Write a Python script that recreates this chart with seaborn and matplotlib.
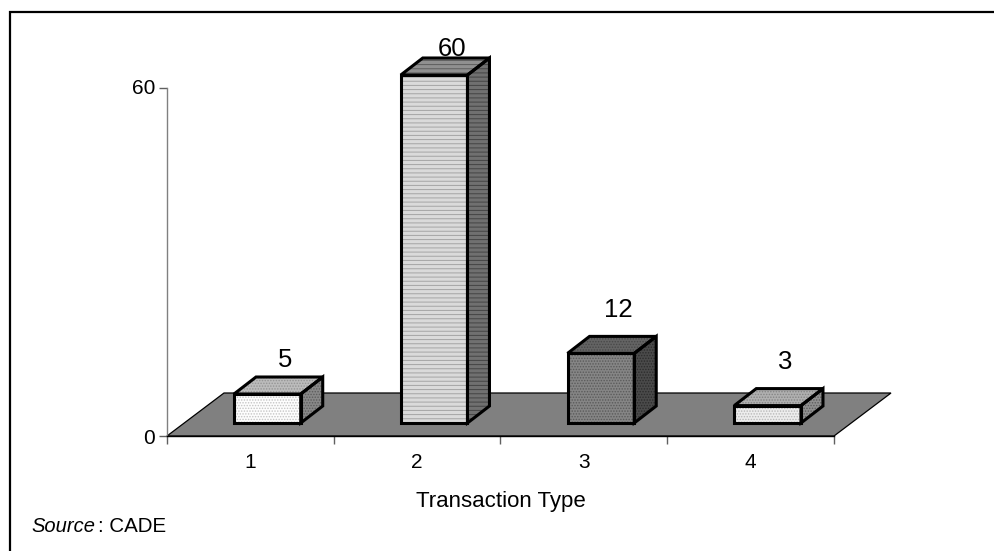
import matplotlib
matplotlib.use("Agg")
import matplotlib.pyplot as plt
import pandas as pd
import seaborn as sns
from matplotlib.patches import Polygon, Rectangle
from matplotlib.transforms import ScaledTranslation

categories = ["1", "2", "3", "4"]
values = [5, 60, 12, 3]
y_ticks = [0, 60]
x_label = "Transaction Type"
source_label = "Source"
source_name = ": CADE"

front_colors = ["#fdfdfd", "#dadada", "#858585", "#ededed"]
front_hatch_colors = ["#c4c4c4", "#a4a4a4", "#5a5a5a", "#b8b8b8"]
top_colors = ["#bcbcbc", "#909090", "#646464", "#b0b0b0"]
top_hatch_colors = ["#949494", "#5e5e5e", "#484848", "#848484"]
side_colors = ["#888888", "#707070", "#4a4a4a", "#909090"]
side_hatch_colors = ["#5c5c5c", "#444444", "#2c2c2c", "#5c5c5c"]
hatches = ["......", "----", "......", "......"]
label_gaps_px = [10, 2, 19, 20]

W, H = 995, 551
sns.set_theme(style="white")
plt.rcParams["font.family"] = ["Liberation Sans", "DejaVu Sans"]
plt.rcParams["hatch.linewidth"] = 0.7

fig = plt.figure(figsize=(W / 100, H / 100), dpi=100)


def box(x0, y_top, x1, y_bottom):
    return [x0 / W, 1 - y_bottom / H, (x1 - x0) / W, (y_bottom - y_top) / H]


# frame around the picture
fig.add_artist(Rectangle((10.5 / W, -0.02), 1.0, 1 - 12 / H + 0.02,
                         transform=fig.transFigure, fill=False,
                         edgecolor="black", linewidth=1.6))

# main axes: axis lines, ticks and the grey floor
ax = fig.add_axes(box(167, 88, 834, 436))
ax.set_xlim(-0.5, 3.5)
ax.set_ylim(0, 60)
ax.patch.set_visible(False)
for s in ("top", "right"):
    ax.spines[s].set_visible(False)
ax.spines["left"].set_color("#808080")
ax.spines["left"].set_linewidth(1.0)
ax.spines["bottom"].set_color("black")
ax.spines["bottom"].set_linewidth(1.0)
ax.set_xticks([-0.5, 0.5, 1.5, 2.5, 3.5])
ax.set_xticklabels([])
ax.set_xticks(range(4), categories, minor=True)
ax.set_yticks(y_ticks)
ax.tick_params(axis="x", which="major", length=6, width=1, color="#606060",
               direction="out", bottom=True)
ax.tick_params(axis="x", which="minor", length=0, labelsize=15, pad=12.5,
               labelcolor="black", bottom=True)
ax.tick_params(axis="y", length=6, width=1, color="#606060", labelsize=15,
               pad=2.5, labelcolor="black", left=True)
ax.set_xlabel(x_label, fontsize=16, color="black", labelpad=13.5)
top_label = ax.get_yticklabels()[1]
top_label.set_transform(top_label.get_transform()
                        + ScaledTranslation(0, 2 / 100, fig.dpi_scale_trans))

deep_x = 57 / 166.75
deep_y = 43 / 5.8
ax.add_patch(Polygon([(-0.5, 0), (3.5, 0), (3.5 + deep_x, deep_y), (-0.5 + deep_x, deep_y)],
                     closed=True, facecolor="#808080", edgecolor="black",
                     linewidth=0.9, clip_on=False, zorder=1))

# bar axes: same scales, moved onto the floor
bx = fig.add_axes(box(184, 75, 851, 423))
df = pd.DataFrame({"cat": categories, "val": values})
sns.barplot(data=df, x="cat", y="val", ax=bx, width=0.4, color="white",
            saturation=1, legend=False)
bx.set_xlim(-0.5, 3.5)
bx.set_ylim(0, 60)
bx.axis("off")

dx = 22 / 166.75
dy = 17 / 5.8
outline = dict(fill=False, edgecolor="black", linewidth=2.2, joinstyle="miter",
               clip_on=False, zorder=6)
for i, bar in enumerate(bx.patches[:4]):
    x0 = bar.get_x()
    x1 = x0 + bar.get_width()
    h = bar.get_height()
    bar.set_facecolor(front_colors[i])
    bar.set_edgecolor(front_hatch_colors[i])
    bar.set_hatch(hatches[i])
    bar.set_linewidth(0)
    bar.set_clip_on(False)
    top = [(x0, h), (x1, h), (x1 + dx, h + dy), (x0 + dx, h + dy)]
    side = [(x1, 0), (x1 + dx, dy), (x1 + dx, h + dy), (x1, h)]
    bx.add_patch(Polygon(top, closed=True, facecolor=top_colors[i],
                         edgecolor=top_hatch_colors[i], hatch=hatches[i],
                         linewidth=0, clip_on=False, zorder=4))
    bx.add_patch(Polygon(side, closed=True, facecolor=side_colors[i],
                         edgecolor=side_hatch_colors[i], hatch=hatches[i],
                         linewidth=0, clip_on=False, zorder=4))
    bx.add_patch(Polygon(top, closed=True, **outline))
    bx.add_patch(Polygon(side, closed=True, **outline))
    bx.add_patch(Rectangle((x0, 0), x1 - x0, h, **outline))
    bx.annotate(str(values[i]), xy=((x0 + x1) / 2, h + dy),
                xytext=(17.5 * 0.72, label_gaps_px[i] * 0.72),
                textcoords="offset points", ha="center", va="baseline",
                fontsize=18.5, color="black", annotation_clip=False, zorder=7)

fig.text(31 / W, 1 - 532 / H, source_label, fontsize=14.5, fontstyle="italic",
         color="black", va="baseline", ha="left")
fig.text(98 / W, 1 - 532 / H, source_name, fontsize=14.8, color="black",
         va="baseline", ha="left")

fig.savefig("out.png", dpi=100, facecolor="white")
